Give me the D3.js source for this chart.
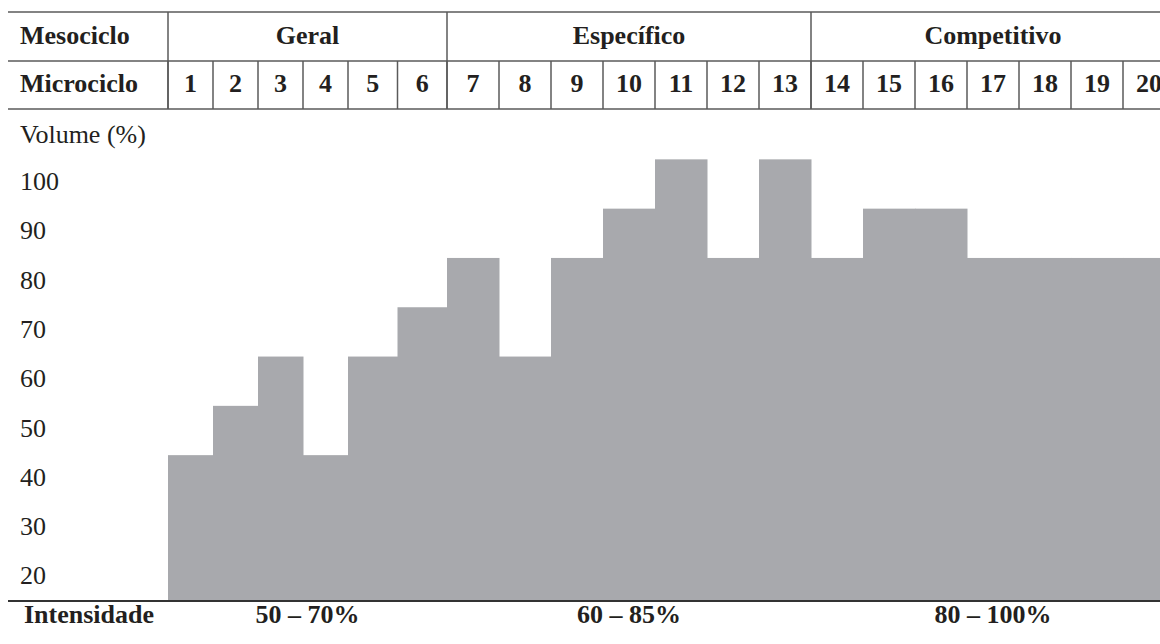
<!DOCTYPE html>
<html>
<head>
<meta charset="utf-8">
<script src="https://cdn.jsdelivr.net/npm/d3@7"></script>
<style>
  body { margin: 0; background: #fff; }
  text { font-family: "Liberation Serif", "DejaVu Serif", serif; fill: #231f20; }
</style>
</head>
<body>
<div id="chart"></div>
<script>
const mesociclos = ["Geral", "Específico", "Competitivo"];
const mesoSize = [6, 7, 7];
const microciclos = ["1","2","3","4","5","6","7","8","9","10","11","12","13","14","15","16","17","18","19","20"];
const volume = [45, 55, 65, 45, 65, 75, 85, 65, 85, 95, 105, 85, 105, 85, 95, 95, 85, 85, 85, 85];
const intensidade = ["50 – 70%", "60 – 85%", "80 – 100%"];
const yTicks = [20, 30, 40, 50, 60, 70, 80, 90, 100];

const width = 1160;
const height = 644;
const fs = 26;

const svg = d3.select("#chart")
  .append("svg")
  .attr("width", width)
  .attr("height", height);

// columns are not all the same width in the original table
const x = d3.scaleLinear()
  .domain([0, 4, 6, 20])
  .range([168, 348, 447, 1175]);

const y = d3.scaleLinear()
  .domain([20, 100])
  .range([578.4, 184]);

const top1 = 12, top2 = 61, top3 = 109, baseY = 601, left = 8;
const lineColor = "#5a5a5a";

// mesocycle start index
const mesoStart = [];
mesoSize.reduce((acc, n) => { mesoStart.push(acc); return acc + n; }, 0);

// bars
svg.append("g")
  .selectAll("rect")
  .data(volume)
  .join("rect")
  .attr("x", (d, i) => x(i))
  .attr("width", (d, i) => x(i + 1) - x(i) + 0.5)
  .attr("y", d => y(d))
  .attr("height", d => baseY - y(d))
  .attr("fill", "#a8a9ad");

// header lines
const grid = svg.append("g").attr("stroke", lineColor).attr("stroke-width", 1.5);
[top1, top2, top3].forEach(yy => {
  grid.append("line").attr("x1", left).attr("x2", width).attr("y1", yy).attr("y2", yy);
});
mesoStart.forEach(s => {
  grid.append("line").attr("x1", x(s)).attr("x2", x(s)).attr("y1", top1).attr("y2", top3);
});
microciclos.forEach((m, i) => {
  grid.append("line").attr("x1", x(i)).attr("x2", x(i)).attr("y1", top2).attr("y2", top3);
});

svg.append("line")
  .attr("x1", left).attr("x2", width)
  .attr("y1", baseY).attr("y2", baseY)
  .attr("stroke", "#333").attr("stroke-width", 2);

// header text
svg.append("text").attr("x", 20).attr("y", 44)
  .attr("font-size", fs).attr("font-weight", "bold").text("Mesociclo");
svg.append("text").attr("x", 20).attr("y", 92)
  .attr("font-size", fs).attr("font-weight", "bold").text("Microciclo");

svg.append("g")
  .selectAll("text")
  .data(mesociclos)
  .join("text")
  .attr("x", (d, i) => (x(mesoStart[i]) + x(mesoStart[i] + mesoSize[i])) / 2)
  .attr("y", 44)
  .attr("text-anchor", "middle")
  .attr("font-size", fs)
  .attr("font-weight", "bold")
  .text(d => d);

svg.append("g")
  .selectAll("text")
  .data(microciclos)
  .join("text")
  .attr("x", (d, i) => (x(i) + x(i + 1)) / 2)
  .attr("y", 92)
  .attr("text-anchor", "middle")
  .attr("font-size", fs)
  .attr("font-weight", "bold")
  .text(d => d);

// y axis labels
svg.append("text").attr("x", 20).attr("y", 143)
  .attr("font-size", fs).text("Volume (%)");

svg.append("g")
  .selectAll("text")
  .data(yTicks)
  .join("text")
  .attr("x", 20)
  .attr("y", d => y(d) + 6)
  .attr("font-size", fs)
  .text(d => d);

// intensity row
svg.append("text").attr("x", 24).attr("y", 623)
  .attr("font-size", fs).attr("font-weight", "bold").text("Intensidade");

svg.append("g")
  .selectAll("text")
  .data(intensidade)
  .join("text")
  .attr("x", (d, i) => (x(mesoStart[i]) + x(mesoStart[i] + mesoSize[i])) / 2)
  .attr("y", 623)
  .attr("text-anchor", "middle")
  .attr("font-size", fs)
  .attr("font-weight", "bold")
  .text(d => d);
</script>
</body>
</html>
